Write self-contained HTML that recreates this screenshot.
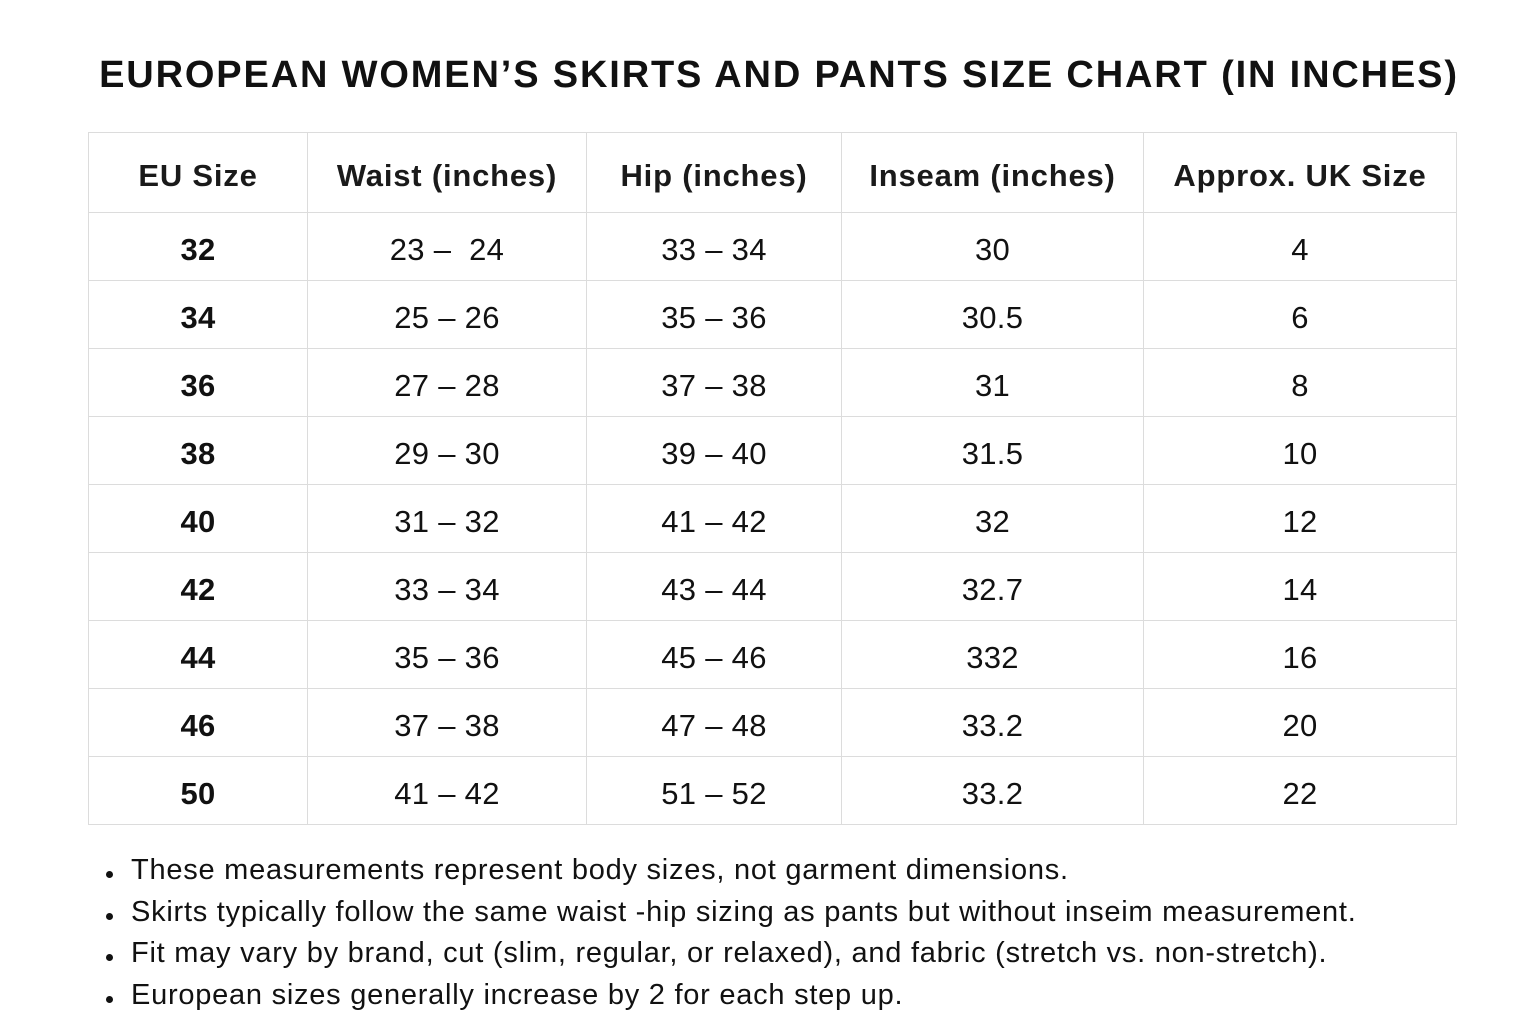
<!DOCTYPE html>
<html><head><meta charset="utf-8"><style>
body{margin:0;width:1536px;height:1024px;background:#fff;font-family:"Liberation Sans",sans-serif;color:#111;position:relative;overflow:hidden}
.t{position:absolute;left:0;width:1558px;top:54px;text-align:center;font-size:38px;font-weight:bold;letter-spacing:1.85px}
table{position:absolute;left:88px;top:132px;border-collapse:collapse}
td{border:1px solid #dcdcdc;text-align:center;font-size:31px;height:68px;padding:6px 0 0 0;box-sizing:border-box;letter-spacing:0.3px}
tr.h td{height:80px;font-weight:bold;font-size:31px;color:#1a1a1a;letter-spacing:0.8px;padding-top:6px}
td.b{font-weight:bold}
ul{position:absolute;left:0;top:851px;margin:0;padding:0;list-style:none}
li{position:absolute;left:131px;font-size:29px;letter-spacing:0.75px;white-space:nowrap}
li:before{content:"";position:absolute;left:-25px;top:17px;width:7px;height:7px;border-radius:50%;background:#111}
</style></head><body>
<div class="t">EUROPEAN WOMEN’S SKIRTS AND PANTS SIZE CHART (IN INCHES)</div>
<table>
<colgroup><col style="width:219px"><col style="width:279px"><col style="width:255px"><col style="width:302px"><col style="width:313px"></colgroup>
<tr class="h"><td>EU Size</td><td>Waist (inches)</td><td>Hip (inches)</td><td>Inseam (inches)</td><td>Approx. UK Size</td></tr>
<tr><td class="b">32</td><td>23 –&nbsp; 24</td><td>33 – 34</td><td>30</td><td>4</td></tr>
<tr><td class="b">34</td><td>25 – 26</td><td>35 – 36</td><td>30.5</td><td>6</td></tr>
<tr><td class="b">36</td><td>27 – 28</td><td>37 – 38</td><td>31</td><td>8</td></tr>
<tr><td class="b">38</td><td>29 – 30</td><td>39 – 40</td><td>31.5</td><td>10</td></tr>
<tr><td class="b">40</td><td>31 – 32</td><td>41 – 42</td><td>32</td><td>12</td></tr>
<tr><td class="b">42</td><td>33 – 34</td><td>43 – 44</td><td>32.7</td><td>14</td></tr>
<tr><td class="b">44</td><td>35 – 36</td><td>45 – 46</td><td>332</td><td>16</td></tr>
<tr><td class="b">46</td><td>37 – 38</td><td>47 – 48</td><td>33.2</td><td>20</td></tr>
<tr><td class="b">50</td><td>41 – 42</td><td>51 – 52</td><td>33.2</td><td>22</td></tr>
</table>
<ul>
<li style="top:3px">These measurements represent body sizes, not garment dimensions.</li>
<li style="top:45px">Skirts typically follow the same waist -hip sizing as pants but without inseim measurement.</li>
<li style="top:86px">Fit may vary by brand, cut (slim, regular, or relaxed), and fabric (stretch vs. non-stretch).</li>
<li style="top:128px">European sizes generally increase by 2 for each step up.</li>
</ul>
</body></html>
